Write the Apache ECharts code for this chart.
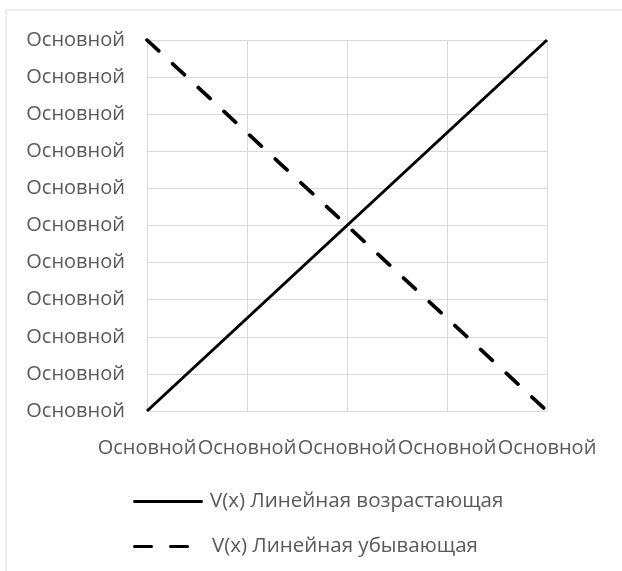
<!DOCTYPE html>
<html>
<head>
<meta charset="utf-8">
<script src="https://cdn.jsdelivr.net/npm/echarts@6/dist/echarts.min.js"></script>
<style>
  html, body { margin: 0; padding: 0; background: #fff; }
  #chart { width: 622px; height: 571px; }
</style>
</head>
<body>
<div id="chart"></div>
<script>
const categories = ['Основной', 'Основной', 'Основной', 'Основной', 'Основной'];
const yTickLabel = 'Основной';
const seriesNames = ['V(x) Линейная возрастающая', 'V(x) Линейная убывающая'];
const increasing = [0, 2.5, 5, 7.5, 10];
const decreasing = [10, 7.5, 5, 2.5, 0];

const FONT = '"Open Sans", "Noto Sans", sans-serif';
const TXT = '#595959';
const GRID = '#d9d9d9';

const legendBase = {
  orient: 'vertical',
  left: 128,
  textStyle: { color: TXT, fontFamily: FONT, fontSize: 20.5, padding: [0, 0, 0, 2] },
  itemStyle: { color: '#000', borderWidth: 0 },
  lineStyle: { opacity: 0 },
  selectedMode: false
};

const chart = echarts.init(document.getElementById('chart'), null, { renderer: 'canvas' });
chart.setOption({
  backgroundColor: '#ffffff',
  animation: false,
  graphic: [{
    type: 'rect',
    shape: { x: 6, y: 10, width: 700, height: 700 },
    style: { fill: 'none', stroke: GRID, lineWidth: 1 },
    silent: true
  }],
  grid: { left: 147, right: 75, top: 40, bottom: 160, containLabel: false },
  xAxis: {
    type: 'category',
    data: categories,
    boundaryGap: false,
    axisLine: { show: true, lineStyle: { color: GRID, width: 1 } },
    axisTick: { show: false },
    splitLine: { show: true, lineStyle: { color: GRID, width: 1 } },
    axisLabel: { color: TXT, fontFamily: FONT, fontSize: 20, margin: 27, interval: 0 }
  },
  yAxis: {
    type: 'value',
    min: 0, max: 10, interval: 1,
    axisLine: { show: true, lineStyle: { color: GRID, width: 1 } },
    axisTick: { show: false },
    splitLine: { show: true, lineStyle: { color: GRID, width: 1 } },
    axisLabel: { color: TXT, fontFamily: FONT, fontSize: 20, margin: 22, formatter: () => yTickLabel }
  },
  legend: [
    Object.assign({}, legendBase, {
      top: 486,
      itemWidth: 70,
      itemHeight: 3.5,
      data: [{ name: seriesNames[0], icon: 'path://M1,0H69A1.5,1.5 0 0 1 69,3H1A1.5,1.5 0 0 1 1,0Z' }]
    }),
    Object.assign({}, legendBase, {
      top: 531,
      itemWidth: 56,
      itemHeight: 4.5,
      textStyle: Object.assign({}, legendBase.textStyle, { padding: [0, 0, 0, 18] }),
      data: [{ name: seriesNames[1], icon: 'path://M1.5,0H18.5A1.5,1.5 0 0 1 18.5,3H1.5A1.5,1.5 0 0 1 1.5,0Z M37.5,0H54.5A1.5,1.5 0 0 1 54.5,3H37.5A1.5,1.5 0 0 1 37.5,0Z' }]
    })
  ],
  series: [
    {
      name: seriesNames[0],
      type: 'line',
      data: increasing,
      symbol: 'none',
      lineStyle: { color: '#000', width: 3 },
      itemStyle: { color: '#000' }
    },
    {
      name: seriesNames[1],
      type: 'line',
      data: decreasing,
      symbol: 'none',
      lineStyle: { color: '#000', width: 3.75, type: [16, 19], cap: 'round' },
      itemStyle: { color: '#000' }
    }
  ]
});
</script>
</body>
</html>
